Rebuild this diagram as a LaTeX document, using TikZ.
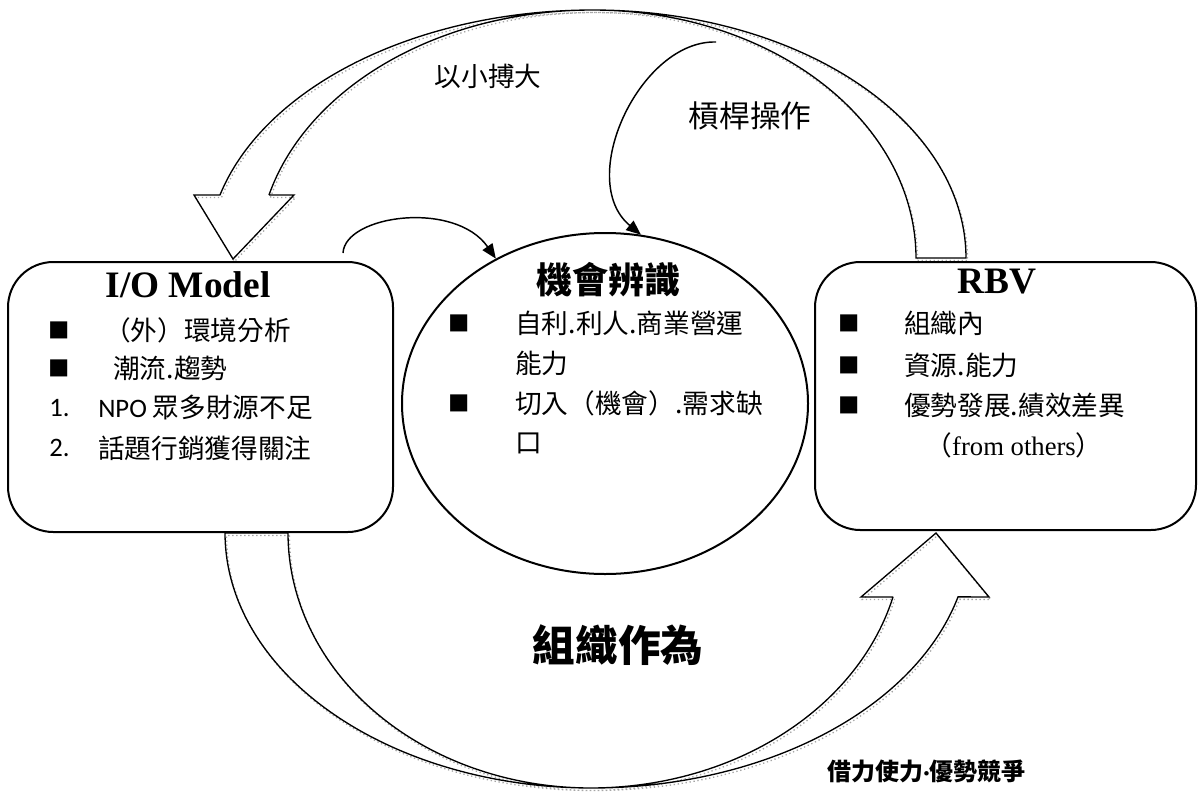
\documentclass[tikz,border=0pt]{standalone}
\usepackage{fontspec}
\setmainfont{Liberation Serif}
\newfontfamily\cjk{Noto Sans CJK TC}
\newfontfamily\cali{Carlito}
\usetikzlibrary{shapes.geometric,arrows.meta}
\tikzset{
  box/.style={draw, line width=1.5pt, rounded corners=34pt, inner sep=0pt, outer sep=0pt},
  blockarrow/.style={draw, line width=1pt, line join=miter},
  blockshadow/.style={draw=black!35, line width=1pt, dotted},
  conn/.style={draw, line width=1.1pt, -{Triangle[length=11pt,width=9pt]}},
  ttl/.style={font=\bfseries\fontsize{28}{30}\selectfont, anchor=base, inner sep=0pt},
  txt/.style={font=\cjk\fontsize{20}{24}\selectfont, anchor=west, inner sep=0pt},
  bul/.style={font=\cjk\fontsize{16}{16}\selectfont, anchor=center, inner sep=0pt},
  num/.style={font=\cali\fontsize{20}{24}\selectfont, anchor=west, inner sep=0pt}
}
\begin{document}
\begin{tikzpicture}[x=0.75pt,y=-0.75pt]
\useasboundingbox (0,0) rectangle (1198,792);

% ---- top curved block arrow (RBV -> I/O Model) ----
\def\toparrow{(916,258) -- (966,258)
  -- plot[domain=0:90] ({593+373*cos(\x)},{258-248*sin(\x)})
  -- plot[domain=90:165.3] ({593+385.7*cos(\x)},{258-248*sin(\x)})
  -- (194,195) -- (233,259) -- (294,195) -- (269,195)
  -- plot[domain=165.3:90] ({592.5+334.5*cos(\x)},{258-248*sin(\x)})
  -- plot[domain=90:0] ({592.5+323.5*cos(\x)},{258-248*sin(\x)}) -- cycle}
\def\botarrow{(288,533) -- (225,533)
  -- plot[domain=180:270] ({591.5+366.5*cos(\x)},{533-255*sin(\x)})
  -- plot[domain=270:345.5] ({591.5+378.6*cos(\x)},{533-255*sin(\x)})
  -- (989,597) -- (936,533) -- (861,597) -- (893,597)
  -- plot[domain=345.5:270] ({590.5+312.5*cos(\x)},{533-255*sin(\x)})
  -- plot[domain=270:180] ({590.5+302.5*cos(\x)},{533-255*sin(\x)}) -- cycle}
\begin{scope}[shift={(1.5,2.5)}]
  \draw[blockshadow, samples=80] \toparrow;
  \draw[blockshadow, samples=80] \botarrow;
\end{scope}
\draw[blockarrow, samples=80] \toparrow;
\draw[blockarrow, samples=80] \botarrow;

% ---- main shapes ----
\node[box, minimum width=288.75pt, minimum height=202.5pt] (io) at (200.5,397) {};
\node[box, minimum width=285.75pt, minimum height=201pt] (rbv) at (1005.5,396) {};
\node[draw, line width=1.5pt, ellipse, inner sep=0pt, minimum width=304.5pt, minimum height=255.75pt] (ell) at (605,403.5) {};

% ---- I/O Model text ----
\node[ttl] (iot) at (188,297) {I/O Model};
\node[bul] (iob1) at (59,330) {■};
\node[txt] (iol1) at (104,330) {（外）環境分析};
\node[bul] (iob2) at (59,368) {■};
\node[txt] (iol2) at (113,368) {潮流.趨勢};
\node[num] (ion1) at (49,408) {1.};
\node[txt] (iol3) at (98,408) {{\cali NPO} 眾多財源不足};
\node[num] (ion2) at (49,448) {2.};
\node[txt] (iol4) at (98,448) {話題行銷獲得關注};

% ---- opportunity ellipse text ----
\node[font=\cjk\bfseries\fontsize{27}{30}\selectfont, inner sep=0pt] (ot) at (608,280) {機會辨識};
\node[bul] (ob1) at (459,323) {■};
\node[txt] (ol1) at (515,323) {自利.利人.商業營運};
\node[txt] (ol2) at (515,363) {能力};
\node[bul] (ob2) at (459,403) {■};
\node[txt] (ol3) at (515,403) {切入（機會）.需求缺};
\node[txt] (ol4) at (515,443) {口};

% ---- RBV text ----
\node[ttl] (rt) at (997,293) {RBV};
\node[bul] (rb1) at (849,323) {■};
\node[txt] (rl1) at (904,323) {組織內};
\node[bul] (rb2) at (849,365) {■};
\node[txt] (rl2) at (904,365) {資源.能力};
\node[bul] (rb3) at (849,405) {■};
\node[txt] (rl3) at (904,405) {優勢發展.績效差異};
\node[font=\fontsize{20}{24}\selectfont, inner sep=0pt] (rl4) at (1014,445) {{\cjk （}from others{\cjk ）}};

% ---- free labels ----
\node[font=\cjk\fontsize{20}{24}\selectfont, inner sep=0pt] (lab1) at (488,76) {以小搏大};
\node[font=\cjk\fontsize{23}{26}\selectfont, inner sep=0pt] (lab2) at (750,116) {槓桿操作};
\node[font=\cjk\bfseries\fontsize{32}{36}\selectfont, inner sep=0pt] (lab3) at (618,645) {組織作為};
\node[font=\cjk\bfseries\fontsize{18}{20}\selectfont, inner sep=0pt, anchor=west] (lab4) at (827,771) {借力使力{\cali\bfseries ·}優勢競爭};

% ---- thin curved connectors ----
\coordinate (c1) at (343,253);
\coordinate (c2) at (716,42);
\draw[conn] (c1) .. controls (345,215) and (455,200) .. (ell.127.5);
\draw[conn] (c2) .. controls (640,40) and (575,180) .. (ell.78.8);
\end{tikzpicture}
\end{document}
